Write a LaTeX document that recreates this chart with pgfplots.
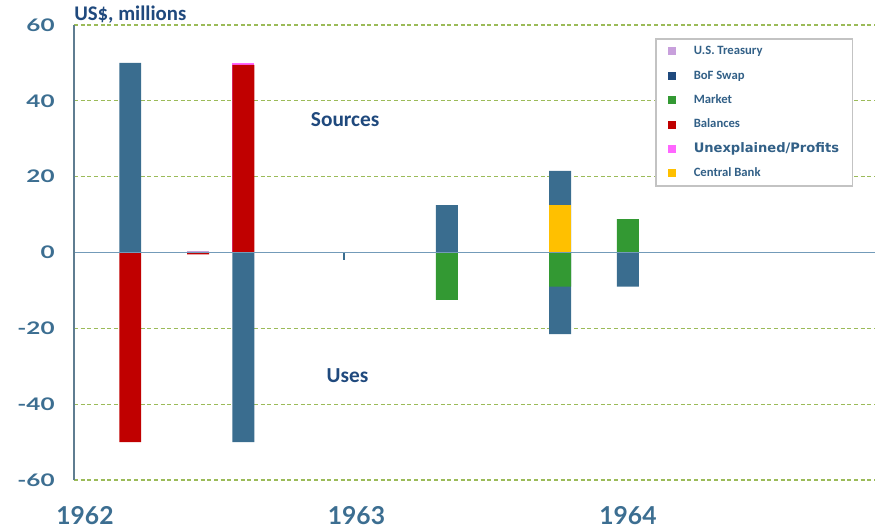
\documentclass[border=0pt]{standalone}
\usepackage{fontspec}
\setmainfont{Carlito}
\newfontfamily\ylat[FakeStretch=1.4]{Lato}
\newfontfamily\xlat{Lato}
\newfontfamily\dejavu{DejaVu Sans}
\usepackage{pgfplots}
\pgfplotsset{compat=1.18}
\definecolor{barblue}{RGB}{58,109,143}
\definecolor{barred}{RGB}{192,0,0}
\definecolor{bargreen}{RGB}{51,153,51}
\definecolor{baryellow}{RGB}{255,192,0}
\definecolor{lilac}{RGB}{200,160,220}
\definecolor{navy}{RGB}{31,73,125}
\definecolor{magentap}{RGB}{255,102,255}
\definecolor{gridolive}{RGB}{155,187,89}
\definecolor{zeroblue}{RGB}{115,155,185}
\definecolor{axisgray}{RGB}{95,125,145}
\definecolor{tickblue}{RGB}{60,110,145}
\definecolor{legtext}{RGB}{50,96,135}
\definecolor{legendgray}{RGB}{195,195,195}
\begin{document}
\begin{tikzpicture}
\useasboundingbox (-55.5pt,-38.25pt) rectangle (600.75pt,360pt);
\begin{axis}[
  scale only axis, width=600.75pt, height=341.25pt,
  xmin=-0.486, xmax=34.92, ymin=-60, ymax=60,
  ybar, bar shift=0pt, bar width=0.97,
  xtick={0,12,24}, xticklabels={1962,1963,1964},
  ytick={-60,-40,-20,0,20,40,60},
  ymajorgrids, grid style={dash pattern=on 3pt off 2pt, color=gridolive, line width=0.8pt},
  axis line style={draw=none}, major tick length=0pt,
  /pgf/number format/assume math mode=true,
  xticklabel style={font=\xlat\bfseries\fontsize{18.5}{21}\selectfont, text=tickblue, yshift=-16pt},
  yticklabel style={font=\ylat\bfseries\fontsize{13}{15}\selectfont, text=tickblue, xshift=-11pt},
  legend image code/.code={\fill[#1] (0pt,-3pt) rectangle (6pt,3pt);},
  legend cell align=left,
  legend style={at={(axis description cs:0.7253,0.9714)}, anchor=north west,
    draw=legendgray, line width=1.2pt, fill=white,
    font=\bfseries\fontsize{9.5}{10}\selectfont, text=legtext,
    row sep=7.3pt, inner xsep=9pt, inner ysep=4pt,
    nodes={inner sep=1pt, text height=7pt, text depth=2pt},
    /tikz/every odd column/.append style={column sep=12.5pt}},
  clip=false,
]
\addlegendimage{fill=lilac, draw=none}
\addlegendentry{U.S. Treasury}
\addlegendimage{fill=navy, draw=none}
\addlegendentry{BoF Swap}
\addlegendimage{fill=bargreen, draw=none}
\addlegendentry{Market}
\addlegendimage{fill=barred, draw=none}
\addlegendentry{Balances}
\addlegendimage{fill=magentap, draw=none}
\addlegendentry{{\dejavu\bfseries\fontsize{9.8}{11}\selectfont Unexplained/Profits}}
\addlegendimage{fill=baryellow, draw=none}
\addlegendentry{Central Bank}

% BoF Swap (outer segments drawn first)
\addplot[forget plot, fill=barblue, draw=none] coordinates {(2,50) (16,12.5) (21,21.5)};
\addplot[forget plot, fill=barblue, draw=none] coordinates {(7,-50) (21,-21.5) (24,-9)};
% Unexplained/Profits
\addplot[forget plot, fill=magentap, draw=none] coordinates {(7,50)};
% Balances
\addplot[forget plot, fill=barred, draw=none] coordinates {(2,-50) (5,-0.5) (7,49.5)};
% Central Bank
\addplot[forget plot, fill=baryellow, draw=none] coordinates {(21,12.5)};
% Market
\addplot[forget plot, fill=bargreen, draw=none] coordinates {(16,-12.5) (21,-9) (24,8.8)};
% U.S. Treasury
\addplot[forget plot, fill=lilac, draw=none] coordinates {(5,0.3)};
% small BoF Swap item
\addplot[forget plot, fill=barblue, draw=none, bar width=0.06] coordinates {(11.45,-2)};

\draw[zeroblue, line width=1.2pt] (rel axis cs:0,0.5) -- (rel axis cs:1,0.5);
\draw[axisgray, line width=1pt] (rel axis cs:0,0) -- (rel axis cs:0,1);
\node[font=\bfseries\fontsize{16}{18}\selectfont, text=navy] at (axis cs:11.5,35) {Sources};
\node[font=\bfseries\fontsize{16}{18}\selectfont, text=navy] at (axis cs:11.6,-32.6) {Uses};
\node[anchor=base west, inner sep=0pt, font=\bfseries\fontsize{15.6}{18}\selectfont, text=navy] at ([yshift=3pt]rel axis cs:0,1) {US\$, millions};
\end{axis}
\end{tikzpicture}
\end{document}
